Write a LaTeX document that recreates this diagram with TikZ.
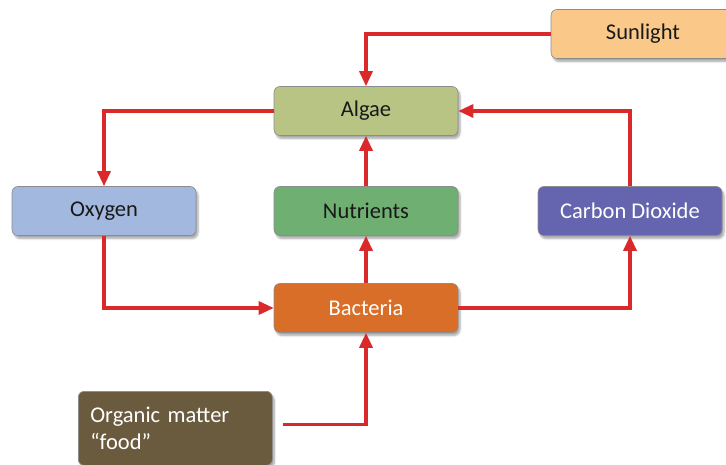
\documentclass[tikz,border=0pt]{standalone}
\usepackage{fontspec}
\setmainfont{Carlito}
\usetikzlibrary{arrows.meta,shadows.blur}
\definecolor{arrowred}{HTML}{D9292B}
\definecolor{sunc}{HTML}{FAC98A}
\definecolor{algaec}{HTML}{B7C484}
\definecolor{oxyc}{HTML}{A3B8DF}
\definecolor{nutc}{HTML}{6FAF72}
\definecolor{co2c}{HTML}{6465AE}
\definecolor{bacc}{HTML}{D86E28}
\definecolor{orgc}{HTML}{6A5B3F}
\begin{document}
\begin{tikzpicture}[x=1pt,y=-1pt,
  box/.style={draw=black!45, line width=0.6pt, rounded corners=6pt,
    minimum width=184pt, minimum height=49pt, text=black!90,
    font=\fontsize{22.5}{27}\selectfont,
    blur shadow={shadow xshift=2pt, shadow yshift=-3pt, shadow blur steps=6, shadow opacity=35}},
  conn/.style={draw=arrowred, line width=3.2pt, -{Triangle[length=15pt,width=13pt]}}]
\useasboundingbox (0,0) rectangle (726,465);
\node[box, fill=sunc] (sun) at (643,34) {Sunlight};
\node[box, fill=algaec] (algae) at (366,111) {Algae};
\node[box, fill=oxyc] (oxy) at (104,211) {Oxygen};
\node[box, fill=nutc] (nut) at (366,211) {Nutrients};
\node[box, fill=co2c, text=white] (co2) at (630,211) {Carbon Dioxide};
\node[box, fill=bacc, text=white] (bac) at (366,308) {Bacteria};
\node[box, fill=orgc, text=white, anchor=north west, minimum width=194pt,
  minimum height=74pt, text width=170pt, inner xsep=12pt, align=left] (org) at (78,391)
  {Organic matter\\“food”};
\draw[conn] (sun.west) -| (algae.north);
\draw[conn] (algae.west) -| (oxy.north);
\draw[conn] (oxy.south) |- (bac.west);
\draw[conn] (bac.north) -- (nut.south);
\draw[conn] (nut.north) -- (algae.south);
\draw[conn] (bac.east) -| (co2.south);
\draw[conn] (co2.north) |- (algae.east);
\draw[conn] ([xshift=10pt,yshift=4pt]org.east) -| (bac.south);
\end{tikzpicture}
\end{document}
